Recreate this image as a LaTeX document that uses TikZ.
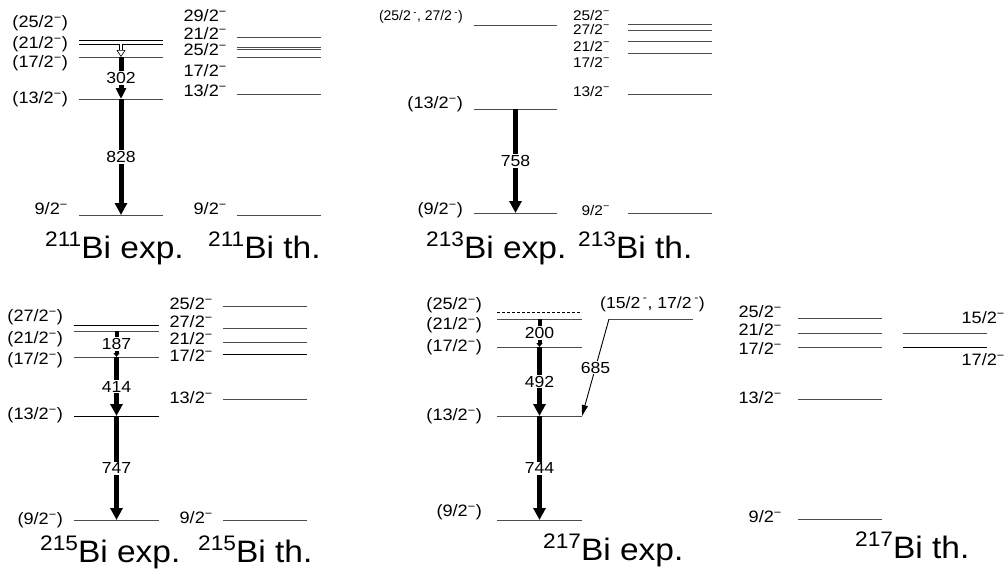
\documentclass[tikz,border=0pt]{standalone}
\usepackage{fontspec}
\setmainfont{Liberation Sans}[FakeStretch=1.1]
\newfontfamily\ttlfont{Liberation Sans}[FakeStretch=1.08]
\newfontfamily\narrowfont{Liberation Sans}
\usetikzlibrary{arrows.meta,calc}
\newcommand\negsup{\textsuperscript{−}}
\newcommand\levline[5]{%
  \coordinate (#1L) at (#2,#4);
  \coordinate (#1R) at (#3,#4);
  \coordinate (#1M) at ($(#1L)!0.5!(#1R)$);
  \draw[#5] (#1L) -- (#1R);}
\newcommand\iso[1]{\raisebox{12pt}{\fontsize{21}{21}\selectfont #1}}
\begin{document}
\begin{tikzpicture}[x=1pt,y=-1pt,
  lev/.style={line width=0.7pt, draw=black!70},
  levs/.style={line width=0.7pt, draw=black},
  levd/.style={line width=0.7pt, draw=black, dash pattern=on 3pt off 2pt},
  lab/.style={anchor=east, inner sep=0pt, font=\fontsize{16.5}{17}\selectfont},
  labs/.style={anchor=east, inner sep=0pt, font=\fontsize{14}{14}\selectfont},
  elab/.style={fill=white, inner sep=1pt, font=\fontsize{16}{16}\selectfont},
  gam/.style={line width=5pt, -{Triangle[width=12pt,length=12pt]}},
  gamm/.style={line width=5pt, -{Triangle[width=10pt,length=11pt]}},
  gams/.style={line width=4pt, -{Triangle[width=6pt,length=4pt]}},
  gamo/.style={line width=0.6pt, double, double distance=2.2pt, -{Triangle[open,width=9pt,length=7pt,line width=0.6pt]}},
  ganh/.style={line width=0.9pt, -{Triangle[width=6pt,length=11pt]}},
  ttl/.style={anchor=base west, inner sep=0pt, font=\ttlfont\fontsize{31}{31}\selectfont}]
\useasboundingbox (0,0) rectangle (1006,573);

% ---------- 211 exp ----------
\levline{A25}{79}{163}{40}{levs}
\levline{A21}{79}{163}{44}{levs}
\levline{A17}{79}{163}{57}{lev}
\levline{A13}{79}{163}{99}{lev}
\levline{A9}{79}{163}{215}{lev}
\node[lab] (lA25) at (68,23) {(25/2\negsup)};
\node[lab] (lA21) at (68,44) {(21/2\negsup)};
\node[lab] (lA17) at (68,63) {(17/2\negsup)};
\node[lab] (lA13) at (68,99) {(13/2\negsup)};
\node[lab] (lA9) at (68,209) {9/2\negsup};
\draw[gamo] (A21M) -- (A17M);
\draw[gamm] (A17M) -- node[elab] (eA302) {302} (A13M);
\draw[gam] (A13M) -- node[elab] (eA828) {828} (A9M);

% ---------- 211 th ----------
\levline{B21}{237}{321}{37}{lev}
\levline{B25}{237}{321}{47}{lev}
\levline{B29}{237}{321}{49.5}{lev}
\levline{B17}{237}{321}{57}{lev}
\levline{B13}{237}{321}{94}{lev}
\levline{B9}{237}{321}{215}{lev}
\node[lab] (lB29) at (227,16) {29/2\negsup};
\node[lab] (lB21) at (227,34) {21/2\negsup};
\node[lab] (lB25) at (227,50) {25/2\negsup};
\node[lab] (lB17) at (227,71) {17/2\negsup};
\node[lab] (lB13) at (227,91) {13/2\negsup};
\node[lab] (lB9) at (227,209) {9/2\negsup};

% ---------- 213 exp ----------
\levline{C25}{474}{557}{25}{lev}
\levline{C13}{474}{557}{109}{lev}
\levline{C9}{474}{557}{213}{lev}
\node[anchor=east, inner sep=0pt, font=\narrowfont\fontsize{14}{14}\selectfont] (lC25) at (463,17) {(25/2\,\textsuperscript{-}, 27/2\,\textsuperscript{-})};
\node[lab] (lC13) at (463,104) {(13/2\negsup)};
\node[lab] (lC9) at (463,210) {(9/2\negsup)};
\draw[gam] (C13M) -- node[elab] (eC758) {758} (C9M);

% ---------- 213 th ----------
\levline{D25}{628}{712}{24}{lev}
\levline{D27}{628}{712}{30}{lev}
\levline{D21}{628}{712}{41}{lev}
\levline{D17}{628}{712}{53}{lev}
\levline{D13}{628}{712}{94}{lev}
\levline{D9}{628}{712}{213}{lev}
\node[labs] (lD25) at (610,15) {25/2\negsup};
\node[labs] (lD27) at (610,29) {27/2\negsup};
\node[labs] (lD21) at (610,46) {21/2\negsup};
\node[labs] (lD17) at (610,62) {17/2\negsup};
\node[labs] (lD13) at (610,91) {13/2\negsup};
\node[labs] (lD9) at (610,210) {9/2\negsup};

% ---------- 215 exp ----------
\levline{E27}{74}{159}{325}{levs}
\levline{E21}{74}{159}{331}{lev}
\levline{E17}{74}{159}{357}{lev}
\levline{E13}{74}{159}{416}{levs}
\levline{E9}{74}{159}{520}{lev}
\node[lab] (lE27) at (63,317) {(27/2\negsup)};
\node[lab] (lE21) at (63,339) {(21/2\negsup)};
\node[lab] (lE17) at (63,360) {(17/2\negsup)};
\node[lab] (lE13) at (63,415) {(13/2\negsup)};
\node[lab] (lE9) at (63,520) {(9/2\negsup)};
\draw[gams] (E21M) -- node[elab] (eE187) {187} (E17M);
\draw[gam] (E17M) -- node[elab] (eE414) {414} (E13M);
\draw[gam] (E13M) -- node[elab] (eE747) {747} (E9M);

% ---------- 215 th ----------
\levline{F25}{223}{307}{306}{lev}
\levline{F27}{223}{307}{328}{lev}
\levline{F21}{223}{307}{342}{lev}
\levline{F17}{223}{307}{354}{levs}
\levline{F13}{223}{307}{399}{lev}
\levline{F9}{223}{307}{520}{lev}
\node[lab] (lF25) at (213,304) {25/2\negsup};
\node[lab] (lF27) at (213,322) {27/2\negsup};
\node[lab] (lF21) at (213,339) {21/2\negsup};
\node[lab] (lF17) at (213,356) {17/2\negsup};
\node[lab] (lF13) at (213,398) {13/2\negsup};
\node[lab] (lF9) at (213,518) {9/2\negsup};

% ---------- 217 exp ----------
\levline{G25}{497}{582}{312}{levd}
\levline{G21}{497}{582}{319}{lev}
\levline{G17}{497}{582}{347}{lev}
\levline{G13}{497}{582}{416}{lev}
\levline{G9}{497}{582}{520}{lev}
\levline{H15}{609}{693}{319}{lev}
\node[lab] (lG25) at (482,305) {(25/2\negsup)};
\node[lab] (lG21) at (482,325) {(21/2\negsup)};
\node[lab] (lG17) at (482,347) {(17/2\negsup)};
\node[lab] (lG13) at (482,416) {(13/2\negsup)};
\node[lab] (lG9) at (482,512) {(9/2\negsup)};
\node[anchor=west, inner sep=0pt, font=\fontsize{16}{16}\selectfont] (lH15) at (600,304) {(15/2\,\textsuperscript{-}, 17/2\,\textsuperscript{-})};
\draw[gams] (G21M) -- node[elab] (eG200) {200} (G17M);
\draw[gam] (G17M) -- node[elab] (eG492) {492} (G13M);
\draw[gam] (G13M) -- node[elab] (eG744) {744} (G9M);
\draw[ganh] (H15L) -- node[elab] (eG685) {685} (G13R);

% ---------- 217 th ----------
\levline{I25}{798}{882}{318}{lev}
\levline{I21}{798}{882}{333}{lev}
\levline{I17}{798}{882}{347}{lev}
\levline{I13}{798}{882}{399}{lev}
\levline{I9}{798}{882}{519}{lev}
\levline{J15}{903}{987}{333}{lev}
\levline{J17}{903}{987}{347}{levs}
\node[lab] (lI25) at (782,312) {25/2\negsup};
\node[lab] (lI21) at (782,330) {21/2\negsup};
\node[lab] (lI17) at (782,349) {17/2\negsup};
\node[lab] (lI13) at (782,398) {13/2\negsup};
\node[lab] (lI9) at (782,517) {9/2\negsup};
\node[lab] (lJ15) at (1005,318) {15/2\negsup};
\node[lab] (lJ17) at (1005,360) {17/2\negsup};

% ---------- titles ----------
\node[ttl] (t1) at (45,258) {\iso{211}Bi exp.};
\node[ttl] (t2) at (208,258) {\iso{211}Bi th.};
\node[ttl] (t3) at (426,258) {\iso{213}Bi exp.};
\node[ttl] (t4) at (578,258) {\iso{213}Bi th.};
\node[ttl] (t5) at (40,562) {\iso{215}Bi exp.};
\node[ttl] (t6) at (198,562) {\iso{215}Bi th.};
\node[ttl] (t7) at (543,560) {\iso{217}Bi exp.};
\node[ttl] (t8) at (855,558) {\iso{217}Bi th.};
\end{tikzpicture}
\end{document}
